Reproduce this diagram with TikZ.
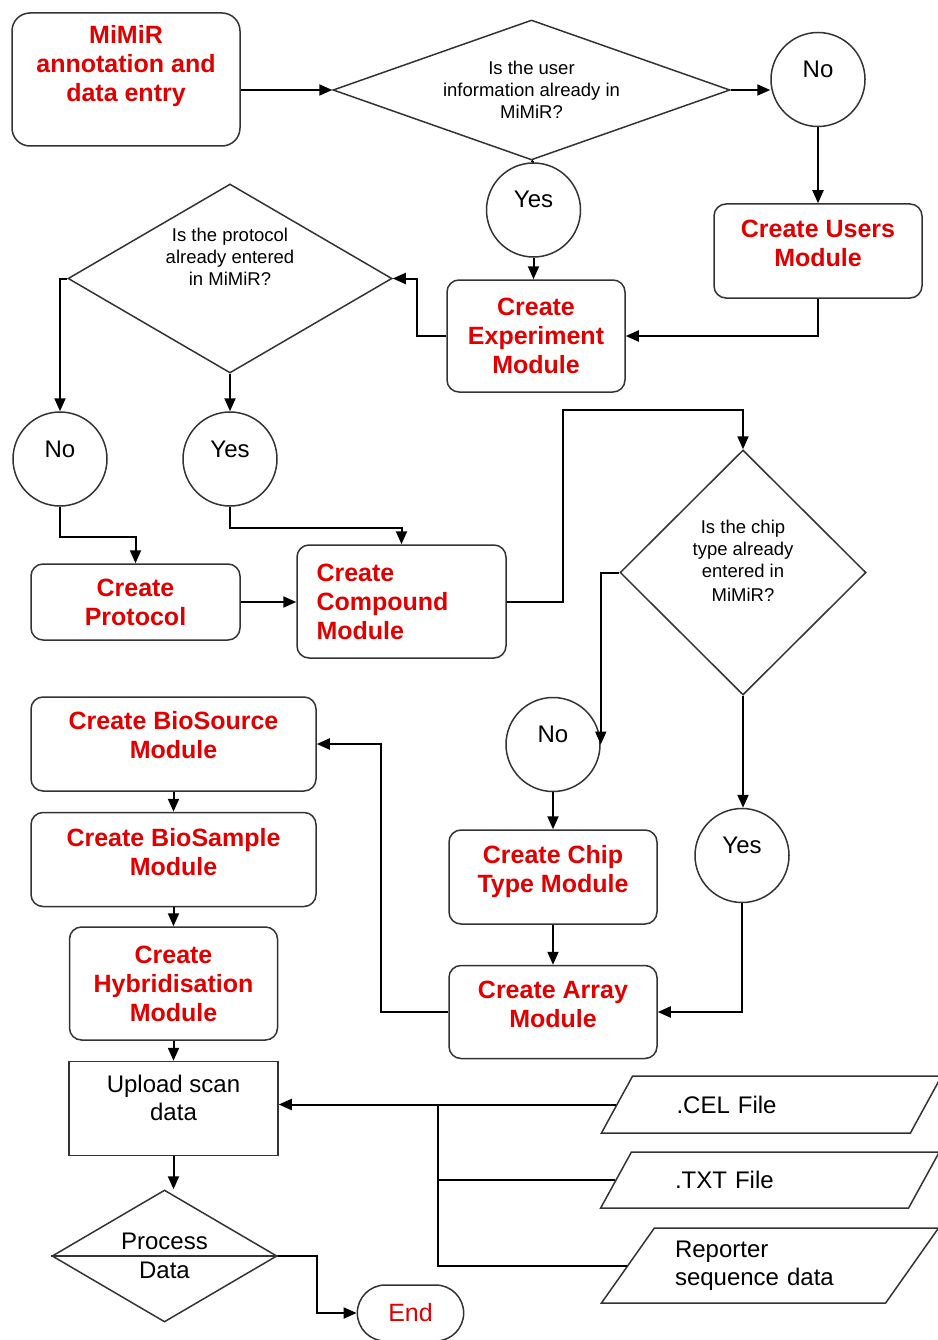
\documentclass[tikz,border=0pt]{standalone}
\usepackage{fontspec}
\setmainfont{Liberation Sans}
\usetikzlibrary{arrows.meta,positioning,shapes.geometric,shapes.misc}
\definecolor{modred}{RGB}{225,0,0}
\newcommand{\lift}[1]{\rule[-#1]{0pt}{1pt}}
\tikzset{
    module/.style={rectangle,rounded corners=12pt,draw=black!80,line width=1.5pt,inner sep=0pt,align=center,text=modred,font=\fontsize{25}{29}\selectfont\bfseries},
    question/.style={diamond,draw=black!80,line width=1.5pt,inner sep=0pt,align=center,font=\fontsize{18.5}{22}\selectfont},
    answer/.style={circle,draw=black!80,line width=1.5pt,minimum size=94pt,inner sep=0pt,text height=18pt,text depth=22pt,font=\fontsize{24}{28}\selectfont},
    datafile/.style={trapezium,trapezium stretches=true,draw=black!80,line width=1.5pt,inner sep=0pt,text width=190pt,align=left,font=\fontsize{24}{28}\selectfont},
    pre/.style={-{Triangle[length=13pt,width=11pt]},line width=2pt},
    bi/.style={-,line width=2pt}
}

\begin{document}
\begin{tikzpicture}[x=1pt,y=-1pt]
    \useasboundingbox[fill=white] (0,0) rectangle (937,1340);

    \node[module,rounded corners=18pt,minimum width=228pt,minimum height=133pt] (mimir) at (126,79.5) {MiMiR\\annotation and\\data entry\lift{32pt}};
    \node[question,aspect=2.84,minimum width=397pt,minimum height=140pt] (userq) at (531.5,90) {Is the user\\information already in\\MiMiR?};
    \node[answer] (no1) at (818,79.5) {No};
    \node[answer] (yes1) at (533.5,210) {Yes};
    \node[module,minimum width=208pt,minimum height=94pt,below=76pt of no1] (users) {Create Users\\Module\lift{16pt}};
    \node[module,minimum width=178pt,minimum height=112pt] (experiment) at (536,336) {Create\\Experiment\\Module};

    \node[question,aspect=1.71,minimum width=324pt,minimum height=189pt] (protocolq) at (230,278.5) {Is the protocol\\already entered\\in MiMiR?\lift{44pt}};
    \node[answer] (no2) at (60,459) {No};
    \node[answer] (yes2) at (230,459) {Yes};
    \node[module,minimum width=209pt,minimum height=76pt] (protocol) at (135.5,602) {Create\\Protocol};
    \node[module,minimum width=209pt,minimum height=113pt,text width=170pt,align=left] (compound) at (401.5,601.5) {Create\\Compound\\Module};

    \node[question,aspect=1,minimum width=246pt,minimum height=245pt] (chipq) at (743,572.5) {Is the chip\\type already\\entered in\\[2pt]MiMiR?\lift{24pt}};
    \node[answer] (no3) at (553,744.5) {No};
    \node[answer] (yes3) at (742,855.5) {Yes};
    \node[module,minimum width=208pt,minimum height=94pt,below=37pt of no3] (chip) {Create Chip\\Type Module\lift{16pt}};
    \node[module,minimum width=208pt,minimum height=93pt,below=40pt of chip] (array) {Create Array\\Module\lift{16pt}};

    \node[module,minimum width=285pt,minimum height=94pt] (biosource) at (173.5,744) {Create BioSource\\Module\lift{18pt}};
    \node[module,minimum width=285pt,minimum height=94pt,below=20pt of biosource] (biosample) {Create BioSample\\Module\lift{16pt}};
    \node[module,minimum width=208pt,minimum height=113pt,below=19pt of biosample] (hybrid) {Create\\Hybridisation\\Module};
    \node[rectangle,draw=black!80,line width=1.5pt,minimum width=209pt,minimum height=94pt,inner sep=0pt,align=center,font=\fontsize{24}{28}\selectfont,below=20pt of hybrid] (upload) {Upload scan\\data\lift{22pt}};
    \node[question,aspect=1.7,minimum width=225pt,minimum height=132pt,font=\fontsize{24}{29}\selectfont] (process) at (164.5,1256) {Process\\Data};
    \node[rounded rectangle,draw=black!80,line width=1.5pt,minimum width=113pt,minimum height=56pt,text=modred,font=\fontsize{25}{29}\selectfont] (end) at (410.5,1313) {End};

    \node[datafile,trapezium left angle=39.6,trapezium right angle=140.4,minimum width=341pt,minimum height=57pt] (cel) at (771.5,1104.5) {.CEL File};
    \node[datafile,trapezium left angle=39.9,trapezium right angle=140.1,minimum width=339pt,minimum height=56pt] (txt) at (770,1180) {.TXT File};
    \node[datafile,trapezium left angle=48.7,trapezium right angle=131.3,minimum width=338pt,minimum height=75pt] (reporter) at (770,1265.5) {Reporter\\sequence data};
    \coordinate (split) at (438,1104.5);

    \draw[pre] (mimir.east |- userq.west) -- (userq.west);
    \draw[pre] (userq.east) -- (userq.east -| no1.west);
    \draw[bi] (userq.south) -- (yes1.north);
    \draw[pre] (no1.south) -- (users.north);
    \draw[pre] (yes1.south) -- (yes1.south |- experiment.north);
    \draw[pre] (users.south) |- (experiment.east);
    \draw[pre] (experiment.west) -- ++(-29,0) |- (protocolq.east);
    \draw[pre] (protocolq.west) -| (no2.north);
    \draw[pre] (protocolq.south) -- (yes2.north);
    \draw[pre] (no2.south) -- ++(0,30) -| (protocol.north);
    \draw[pre] (yes2.south) -- ++(0,21) -| (compound.north);
    \draw[pre] (protocol.east) -- (protocol.east -| compound.west);
    \draw[pre] (compound.east) -- ++(56,0) |- ([yshift=39pt]chipq.north) -- (chipq.north);
    \draw[pre] (chipq.west) -| (no3.east);
    \draw[pre] (chipq.south) -- (chipq.south |- yes3.north);
    \draw[pre] (no3.south) -- (chip.north);
    \draw[pre] (chip.south) -- (array.north);
    \draw[pre] (yes3.south) |- (array.east);
    \draw[pre] (array.west) -- ++(-67,0) |- (biosource.east);
    \draw[pre] (biosource.south) -- (biosample.north);
    \draw[pre] (biosample.south) -- (hybrid.north);
    \draw[pre] (hybrid.south) -- (upload.north);
    \draw[pre] (upload.south) -- (upload.south |- process.north);
    \draw[draw=black!80,line width=1.5pt] (process.west) -- (process.east);
    \draw[pre] (process.east) -- ++(39,0) |- (end.west);
    \draw[pre] (cel.west) -- (cel.west -| upload.east);
    \draw[bi] (txt.west) -| (split);
    \draw[bi] (reporter.west) -| (split);
\end{tikzpicture}
\end{document}
